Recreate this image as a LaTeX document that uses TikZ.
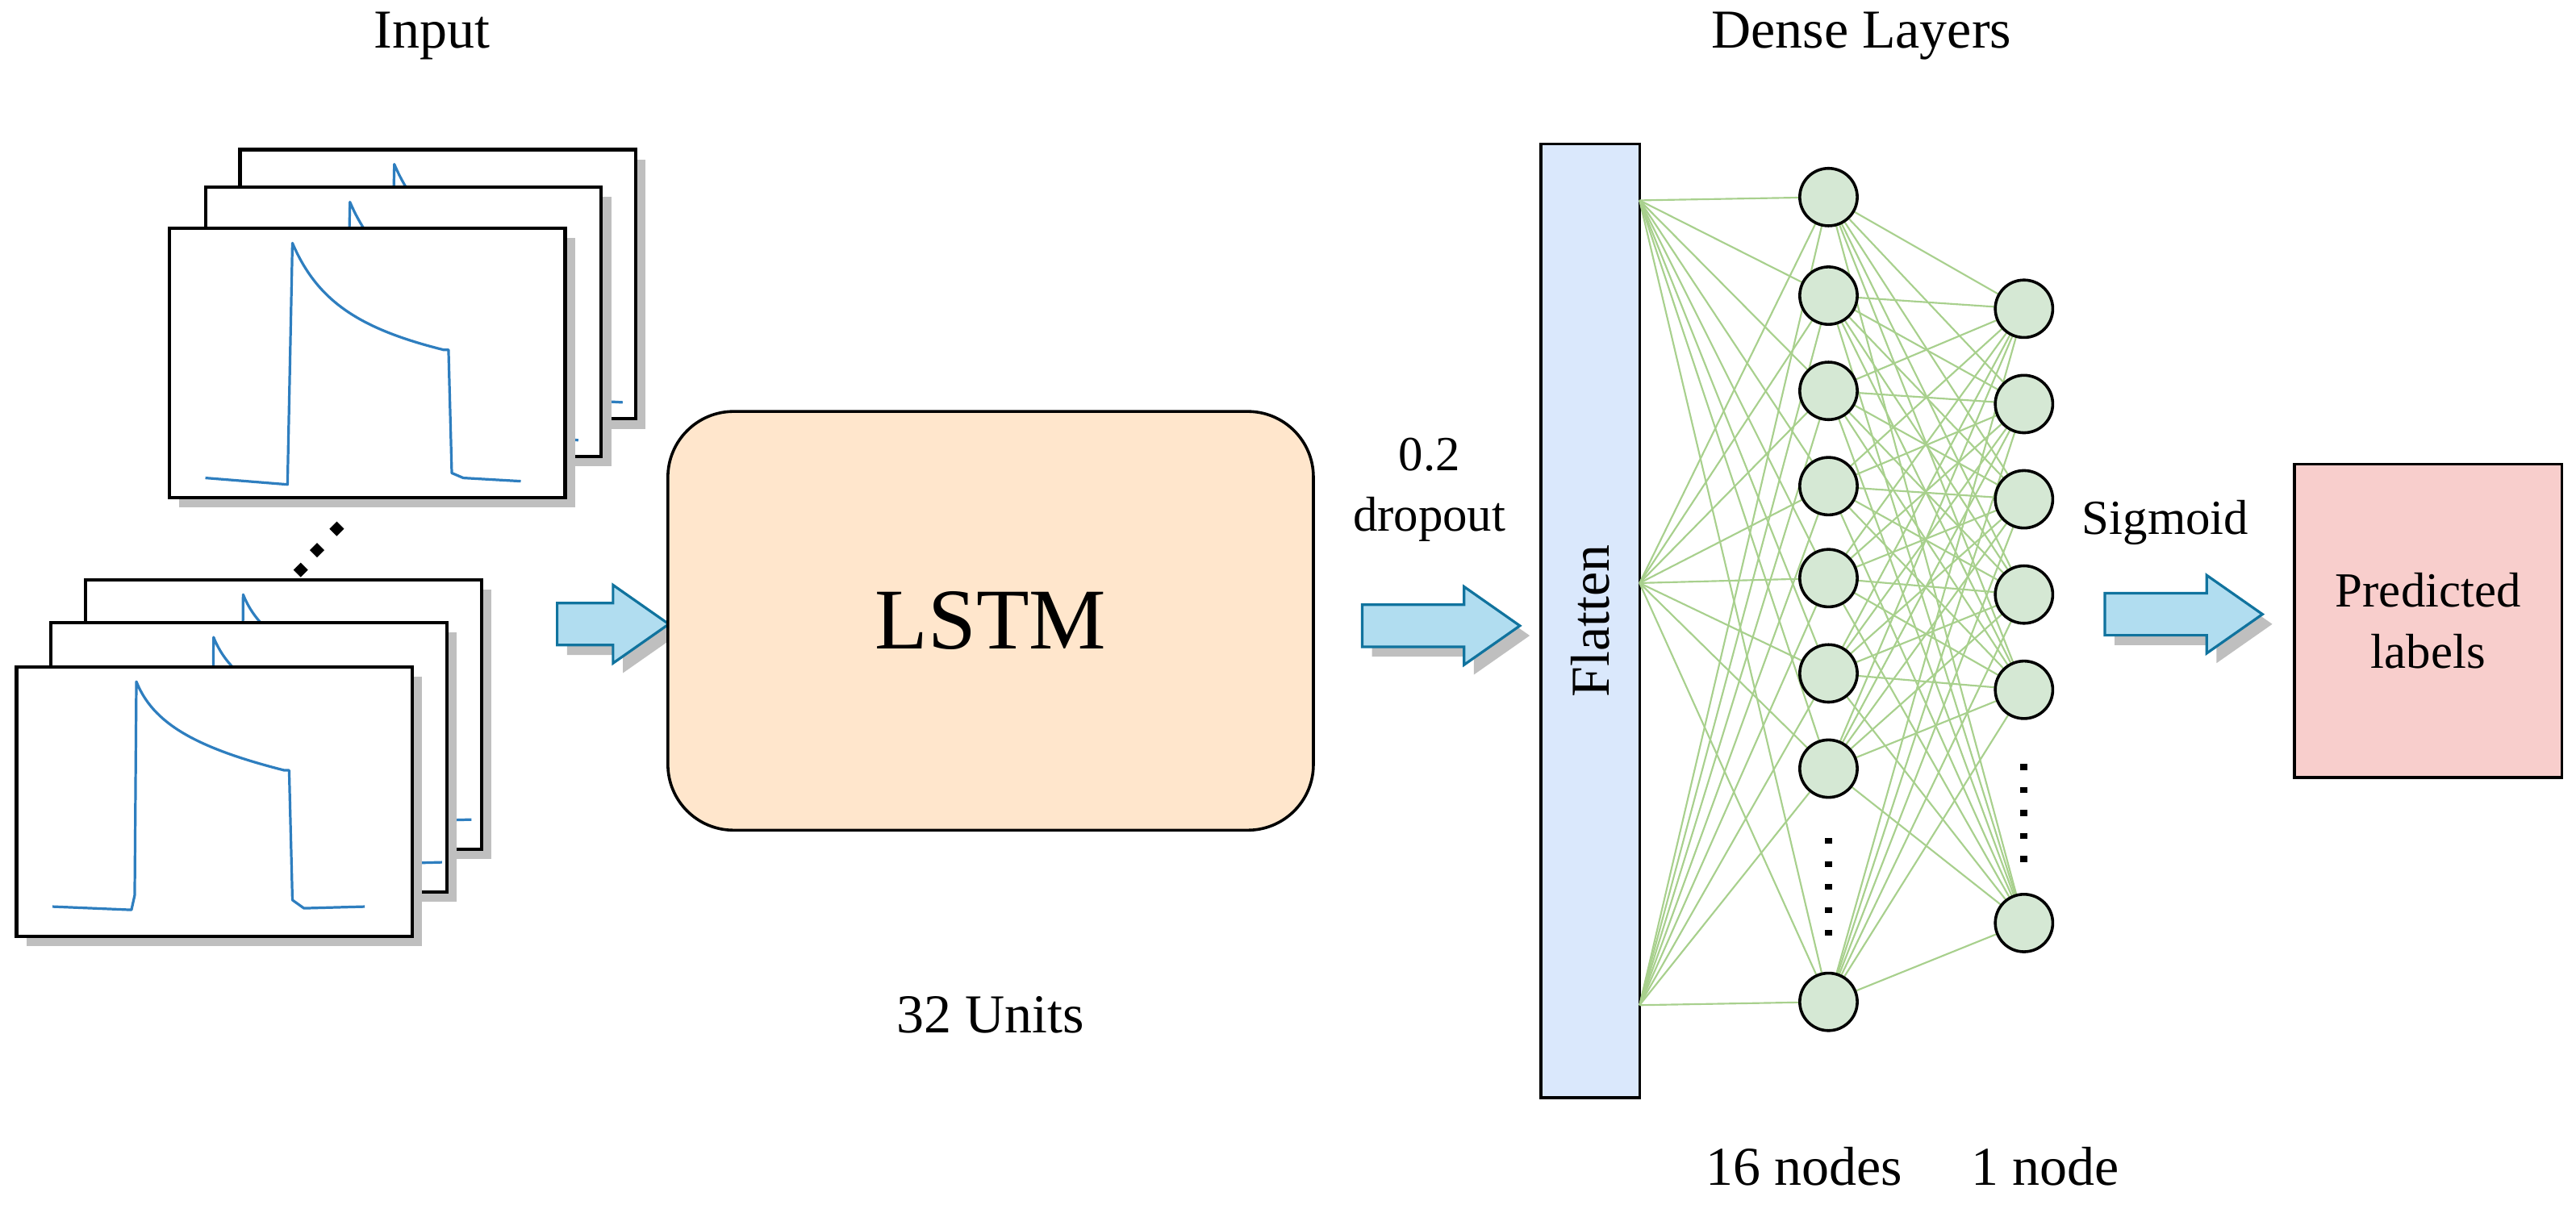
\documentclass[tikz,border=0pt]{standalone}
\usepackage{fontspec}
\setmainfont{Liberation Serif}
\usetikzlibrary{shapes.arrows,shapes.geometric,shadows}
\definecolor{traceblue}{HTML}{2E7EBF}
\definecolor{arrowfill}{HTML}{B1DDF0}
\definecolor{arrowline}{HTML}{10739E}
\definecolor{flatfill}{HTML}{DAE8FC}
\definecolor{nodefill}{HTML}{D5E8D4}
\definecolor{linkgreen}{HTML}{A8D08D}
\definecolor{lstmfill}{HTML}{FFE6CC}
\definecolor{predfill}{HTML}{F8CECC}
\begin{document}
\begin{tikzpicture}[x=0.02cm,y=-0.02cm]
  % Estilos
  \tikzset{
      card/.style={draw=black, line width=1.2pt, fill=white, minimum width=4.82cm, minimum height=3.28cm, anchor=north west, inner sep=0pt,
                   drop shadow={shadow xshift=0.12cm, shadow yshift=-0.12cm, opacity=1, fill=black!25}},
      trace/.style={draw=traceblue, line width=0.9pt, line join=round},
      fatarrow/.style={single arrow, draw=arrowline, fill=arrowfill, line width=0.9pt, minimum height=1.92cm,
                   single arrow head extend=0.22cm, single arrow tip angle=70, inner xsep=0pt, inner ysep=0.24cm,
                   drop shadow={shadow xshift=0.12cm, shadow yshift=-0.12cm, opacity=1, fill=black!25}},
      neuron/.style={circle, draw=black, line width=1pt, fill=nodefill, minimum size=0.7cm, inner sep=0pt},
      link/.style={draw=linkgreen, line width=0.6pt},
      dot/.style={fill=black, diamond, inner sep=1.3pt},
      vdot/.style={fill=black, inner sep=0pt, minimum width=0.09cm, minimum height=0.07cm},
      lbl/.style={font=\fontsize{19}{22}\selectfont}
  }
  \useasboundingbox (0,0) rectangle (1568,736);

  % Titulos
  \node[lbl] (tIn) at (263,22) {Input};
  \node[lbl] (tDense) at (1133,22) {Dense Layers};

  % Cartas de entrada (pilha de cima)
  \foreach \x/\y/\s [count=\k] in {145/90/95, 124/113/89, 102/138/76} {
      \node[card] (t\k) at (\x,\y) {};
      \draw[trace, shift={(\x,\y)}] (23,153) -- (\s-3,157) -- (\s,10) .. controls (\s+15,45) and (\s+40,62) .. (\s+92,75) -- (\s+95,75) -- (\s+97,150) -- (\s+104,153) -- (\s+139,155);
  }
  % Pontos
  \node[dot] (d1) at (205,322) {};
  \node[dot] (d2) at (193,335) {};
  \node[dot] (d3) at (183,347) {};
  % Cartas de entrada (pilha de baixo)
  \foreach \x/\y/\s [count=\k] in {51/352/97, 30/378/100, 9/405/74} {
      \node[card] (b\k) at (\x,\y) {};
      \draw[trace, shift={(\x,\y)}] (23,147) -- (\s-3,149) -- (\s-1,140) -- (\s,10) .. controls (\s+10,35) and (\s+35,50) .. (\s+90,64) -- (\s+93,64) -- (\s+95,143) -- (\s+102,148) -- (\s+139,147);
  }

  % LSTM
  \node[fatarrow, minimum height=1.36cm] (a1) at (364,380) {};
  \node[draw=black, line width=1pt, rounded corners=0.8cm, fill=lstmfill, minimum width=7.86cm, minimum height=5.1cm,
        font=\fontsize{30}{34}\selectfont] (lstm) at (603,378) {LSTM};
  \node[lbl] (units) at (603,618) {32 Units};
  \node[lbl, align=center, font=\fontsize{17}{21}\selectfont] (drop) at (870,298) {0.2\\dropout};
  \node[fatarrow] (a2) at (868,381) {};

  % Flatten
  \node[draw=black, line width=1pt, fill=flatfill, minimum width=1.2cm, minimum height=11.62cm, inner sep=0pt] (flat) at (968,378) {};
  \node[rotate=90, lbl] (flatTxt) at (968,378) {Flatten};
  \coordinate (p1) at (998,122);
  \coordinate (p2) at (998,355);
  \coordinate (p3) at (998,612);

  % Camadas densas
  \foreach \y [count=\i] in {120,180,238,296,352,410,468,610}
      \coordinate (h\i) at (1113,\y);
  \foreach \y [count=\i] in {188,246,304,362,420,562}
      \coordinate (o\i) at (1232,\y);
  \foreach \i in {1,...,8}
      \foreach \p in {p1,p2,p3}
          \draw[link] (\p) -- (h\i);
  \foreach \i in {1,...,8}
      \foreach \j in {1,...,6}
          \draw[link] (h\i) -- (o\j);
  \foreach \y [count=\i] in {120,180,238,296,352,410,468,610}
      \node[neuron] (h\i) at (1113,\y) {};
  \foreach \y [count=\i] in {188,246,304,362,420,562}
      \node[neuron] (o\i) at (1232,\y) {};
  \foreach \y [count=\k] in {512,526,540,554,568}
      \node[vdot] (va\k) at (1113,\y) {};
  \foreach \y [count=\k] in {467,481,495,509,523}
      \node[vdot] (vb\k) at (1232,\y) {};
  \node[lbl] (n16) at (1098,710) {16 nodes};
  \node[lbl] (n1) at (1245,710) {1 node};

  % Saida
  \node[lbl, font=\fontsize{17}{21}\selectfont] (sig) at (1318,318) {Sigmoid};
  \node[fatarrow] (a3) at (1320,374) {};
  \node[draw=black, line width=1pt, fill=predfill, minimum width=3.26cm, minimum height=3.82cm, align=center,
        font=\fontsize{17}{21}\selectfont] (pred) at (1478,378) {Predicted\\labels};
\end{tikzpicture}
\end{document}
